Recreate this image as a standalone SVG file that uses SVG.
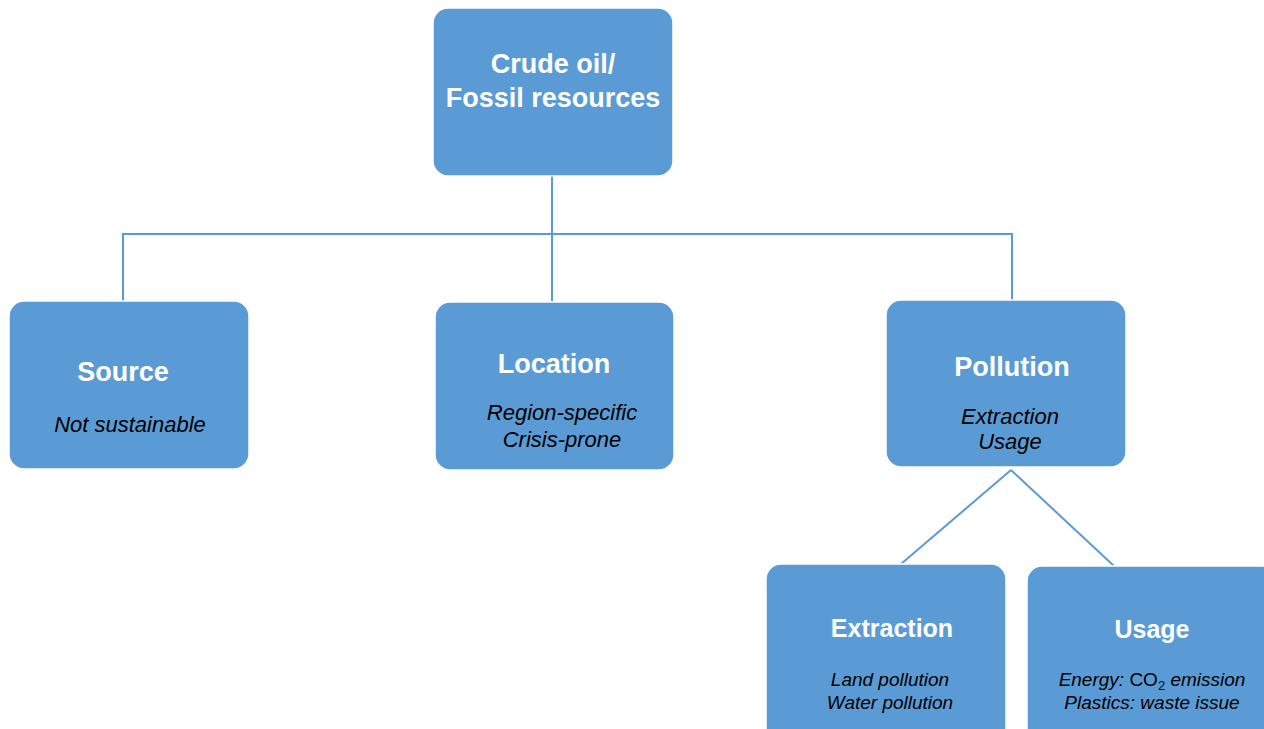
<svg xmlns="http://www.w3.org/2000/svg" width="1264" height="729" viewBox="0 0 1264 729">
<style>
.box{fill:#5B9BD5;stroke:#ffffff;stroke-width:1.5}
.t{font-family:"Liberation Sans",Arial,sans-serif;font-weight:bold;fill:#ffffff;text-anchor:middle}
.s{font-family:"Liberation Sans",Arial,sans-serif;font-style:italic;fill:#000000;text-anchor:middle}
.c{stroke:#5B9BD5;stroke-width:2;fill:none}
</style>
<rect width="1264" height="729" fill="#ffffff"/>
<g id="connectors">
<line class="c" x1="552" y1="176" x2="552" y2="301"/>
<line class="c" x1="122" y1="234" x2="1013" y2="234"/>
<line class="c" x1="123" y1="233" x2="123" y2="301"/>
<line class="c" x1="1012" y1="233" x2="1012" y2="300"/>
<line class="c" x1="1011" y1="470" x2="901" y2="564"/>
<line class="c" x1="1011" y1="470" x2="1114" y2="566"/>
</g>
<g id="crude">
<rect class="box" x="433" y="8" width="240" height="168" rx="15"/>
<text class="t" x="553" y="73" font-size="27">Crude oil/</text>
<text class="t" x="553" y="107" font-size="27">Fossil resources</text>
</g>
<g id="source">
<rect class="box" x="9" y="301" width="240" height="168" rx="15"/>
<text class="t" x="123" y="381" font-size="27">Source</text>
<text class="s" x="130" y="432" font-size="22">Not sustainable</text>
</g>
<g id="location">
<rect class="box" x="435" y="302" width="239" height="168" rx="15"/>
<text class="t" x="554" y="373" font-size="27">Location</text>
<text class="s" x="562" y="420" font-size="22">Region-specific</text>
<text class="s" x="562" y="447" font-size="22">Crisis-prone</text>
</g>
<g id="pollution">
<rect class="box" x="886" y="300" width="240" height="167" rx="15"/>
<text class="t" x="1012" y="376" font-size="27">Pollution</text>
<text class="s" x="1010" y="424" font-size="22">Extraction</text>
<text class="s" x="1010" y="449" font-size="22">Usage</text>
</g>
<g id="extraction">
<rect class="box" x="766" y="564" width="240" height="185" rx="15"/>
<text class="t" x="892" y="637" font-size="25">Extraction</text>
<text class="s" x="890" y="686" font-size="19">Land pollution</text>
<text class="s" x="890" y="709" font-size="19">Water pollution</text>
</g>
<g id="usage">
<rect class="box" x="1027" y="566" width="250" height="185" rx="15"/>
<text class="t" x="1152" y="638" font-size="25">Usage</text>
<text class="s" x="1152" y="686" font-size="19">Energy: <tspan font-style="normal">CO<tspan font-size="13" dy="4">2</tspan></tspan><tspan dy="-4"> emission</tspan></text>
<text class="s" x="1152" y="709" font-size="19">Plastics: waste issue</text>
</g>
</svg>
